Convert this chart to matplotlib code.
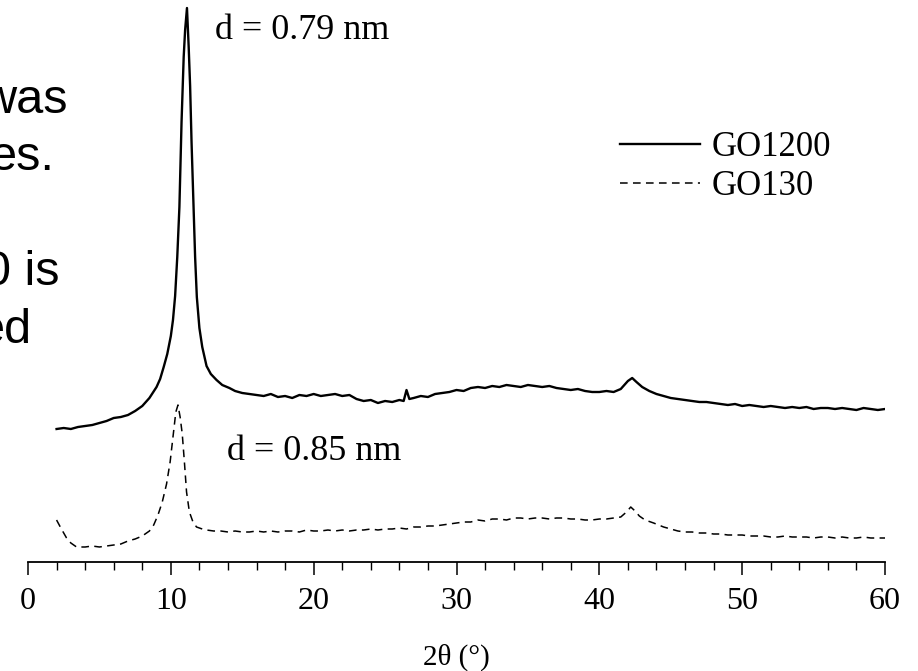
import matplotlib
matplotlib.use("Agg")
import matplotlib.pyplot as plt
from matplotlib.ticker import MultipleLocator

# ---- data (intensity in arbitrary units) ----
x_go1200 = [2.0, 2.5, 3.0, 3.5, 4.0, 4.5, 5.0, 5.5, 6.0, 6.5, 7.0, 7.5, 8.0, 8.5, 9.0,
            9.25, 9.5, 9.75, 10.0, 10.15, 10.3, 10.45, 10.6, 10.75, 10.9, 11.0, 11.13,
            11.25, 11.35, 11.45, 11.58, 11.7, 11.82, 12.0, 12.2, 12.5, 12.8, 13.2, 13.6,
            14.1, 14.5, 15.0, 15.5, 16.0, 16.5, 17.0, 17.5, 18.0, 18.5, 19.0, 19.5, 20.0,
            20.5, 21.0, 21.5, 22.0, 22.5, 23.0, 23.5, 24.0, 24.5, 25.0, 25.5, 26.0, 26.3,
            26.5, 26.7, 27.0, 27.5, 28.0, 28.5, 29.0, 29.5, 30.0, 30.5, 31.0, 31.5, 32.0,
            32.5, 33.0, 33.5, 34.0, 34.5, 35.0, 35.5, 36.0, 36.5, 37.0, 37.5, 38.0, 38.5,
            39.0, 39.5, 40.0, 40.5, 41.0, 41.5, 42.0, 42.3, 42.6, 43.0, 43.5, 44.0, 44.5,
            45.0, 45.5, 46.0, 46.5, 47.0, 47.5, 48.0, 48.5, 49.0, 49.5, 50.0, 50.5, 51.0,
            51.5, 52.0, 52.5, 53.0, 53.5, 54.0, 54.5, 55.0, 55.5, 56.0, 56.5, 57.0, 57.5,
            58.0, 58.5, 59.0, 59.5, 60.0]
y_go1200 = [133, 134, 133, 135, 136, 137, 139, 141, 144, 145, 147, 151, 156, 164, 175,
            183, 195, 208, 226, 242, 266, 305, 355, 440, 505, 532, 554,
            515, 476, 420, 362, 305, 265, 234, 215, 196, 188, 182, 177,
            174, 171, 169, 168, 167, 166, 168, 165, 166, 164, 167, 166, 168,
            166, 167, 168, 166, 167, 163, 161, 162, 159, 161, 160, 162, 161,
            172, 163, 164, 166, 165, 168, 169, 170, 172, 171, 174, 175, 174,
            176, 175, 177, 176, 175, 177, 176, 175, 176, 174, 173, 172, 173,
            171, 170, 170, 171, 170, 173, 181, 184, 180, 175, 171, 168, 166,
            164, 163, 162, 161, 160, 160, 159, 158, 157, 158, 156, 157, 156,
            155, 156, 155, 154, 155, 154, 155, 153, 154, 154, 153, 154, 153,
            152, 154, 153, 152, 153]

x_go130 = [2.0, 2.3, 2.7, 3.0, 3.4, 4.0, 4.5, 5.0, 5.5, 6.0, 6.5, 7.0, 7.5, 8.0, 8.5,
           8.8, 9.1, 9.4, 9.7, 9.95, 10.15, 10.35, 10.5, 10.65, 10.8, 10.95, 11.1, 11.3,
           11.55, 11.8, 12.2, 12.5, 13.0, 13.5, 14.0, 14.5, 15.0, 15.5, 16.0, 16.5, 17.0,
           17.5, 18.0, 18.5, 19.0, 19.5, 20.0, 20.5, 21.0, 21.5, 22.0, 22.5, 23.0, 23.5,
           24.0, 24.5, 25.0, 25.5, 26.0, 26.5, 27.0, 27.5, 28.0, 28.5, 29.0, 29.5, 30.0,
           30.5, 31.0, 31.5, 32.0, 32.5, 33.0, 33.5, 34.0, 34.5, 35.0, 35.5, 36.0, 36.5,
           37.0, 37.5, 38.0, 38.5, 39.0, 39.5, 40.0, 40.5, 41.0, 41.5, 41.9, 42.2, 42.5,
           42.8, 43.2, 43.8, 44.5, 45.0, 45.5, 46.0, 46.5, 47.0, 47.5, 48.0, 48.5, 49.0,
           49.5, 50.0, 50.5, 51.0, 51.5, 52.0, 52.5, 53.0, 53.5, 54.0, 54.5, 55.0, 55.5,
           56.0, 56.5, 57.0, 57.5, 58.0, 58.5, 59.0, 59.5, 60.0]
y_go130 = [42, 34, 24, 19, 15, 15, 16, 15, 16, 17, 18, 21, 23, 26, 31,
           37, 47, 60, 78, 100, 125, 150, 157, 145, 128, 100, 70, 50,
           40, 35, 33, 32, 31, 31, 30, 31, 30, 30, 31, 30, 31,
           30, 31, 31, 30, 32, 31, 31, 32, 31, 32, 31, 32, 32,
           33, 32, 33, 33, 34, 33, 35, 35, 36, 36, 37, 38, 39,
           40, 40, 42, 41, 43, 43, 42, 44, 44, 43, 44, 44, 43,
           44, 44, 43, 43, 42, 42, 43, 43, 44, 45, 50, 55, 51,
           46, 42, 39, 35, 33, 31, 30, 30, 29, 29, 28, 28, 27,
           27, 27, 26, 26, 26, 25, 25, 26, 25, 25, 25, 24, 25,
           25, 24, 25, 24, 24, 25, 24, 24, 24]

series_labels = ["GO1200", "GO130"]
x_ticks = [0, 10, 20, 30, 40, 50, 60]
x_label = "2\u03b8 (\u00b0)"
annot_1200 = "d = 0.79 nm"
annot_130 = "d = 0.85 nm"
slide_lines = ["was", "es.", "0 is", "ed"]

serif = ["Liberation Serif", "DejaVu Serif"]
sans = ["Liberation Sans", "DejaVu Sans"]

W, H = 918, 671
fig = plt.figure(figsize=(W / 100, H / 100), dpi=100)
ax = fig.add_axes([28 / W, (H - 562) / H, (885 - 28) / W, 562 / H])
ax.set_xlim(0, 60)
ax.set_ylim(0, 562)

ax.plot(x_go1200, y_go1200, color="black", lw=1.7, label=series_labels[0])
ax.plot(x_go130, y_go130, color="black", lw=1.1, linestyle=(0, (5, 3.5)),
        label=series_labels[1])

for s in ["top", "right", "left"]:
    ax.spines[s].set_visible(False)
ax.spines["bottom"].set_linewidth(1.3)
ax.set_yticks([])
ax.set_xticks(x_ticks)
ax.xaxis.set_minor_locator(MultipleLocator(2))
ax.tick_params(axis="x", which="major", direction="out", length=9, width=1.1, pad=9)
ax.tick_params(axis="x", which="minor", direction="out", length=5.5, width=1.0)
for lab in ax.get_xticklabels():
    lab.set_fontfamily(serif)
    lab.set_fontsize(23)
ax.set_xlabel(x_label, fontfamily=serif, fontsize=21, labelpad=20)
ax.patch.set_alpha(0)

ax.text(13.1, 523, annot_1200, fontfamily=serif, fontsize=26, va="baseline", ha="left")
ax.text(13.9, 102, annot_130, fontfamily=serif, fontsize=26, va="baseline", ha="left")

leg = ax.legend(loc="upper left", bbox_to_anchor=((620 - 28) / (885 - 28), (562 - 131) / 562),
                frameon=False, prop={"family": serif, "size": 25},
                handlelength=2.3, handletextpad=0.35, labelspacing=0.18,
                borderaxespad=0, borderpad=0)

# slide text fragments at left
slide_right = [68, 55, 60, 32]
slide_base = [113, 170, 285, 343]
for t, xr, yb in zip(slide_lines, slide_right, slide_base):
    fig.text(xr / W, 1 - yb / H, t, fontfamily=sans, fontsize=35, ha="right", va="baseline")

fig.savefig("out.png", dpi=100)
